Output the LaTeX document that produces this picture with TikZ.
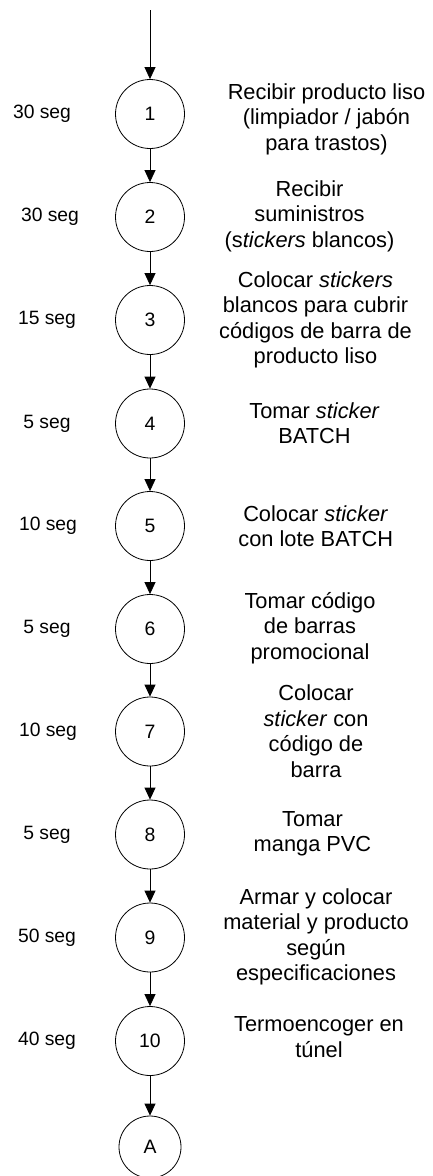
\documentclass[tikz,border=0pt]{standalone}
\usepackage{fontspec}
\setmainfont{Liberation Sans}
\usetikzlibrary{arrows.meta}
\begin{document}
\begin{tikzpicture}[x=1pt,y=-1pt,
  stepnode/.style={circle,draw,line width=0.8pt,minimum size=69pt,inner sep=0pt,
    font=\fontsize{19.4}{23}\selectfont},
  connnode/.style={circle,draw,line width=0.8pt,minimum size=62pt,inner sep=0pt,
    font=\fontsize{19.4}{23}\selectfont},
  timelabel/.style={inner sep=0pt,font=\fontsize{19.3}{23}\selectfont},
  desc/.style={align=center,inner sep=0pt,font=\fontsize{21.8}{25.5}\selectfont},
  flow/.style={line width=0.8pt,-{Triangle[length=12pt,width=11pt]}}
]
\useasboundingbox (0,0) rectangle (432,1176);

% operation circles
\node[stepnode] (s1)  at (150,114)  {1};
\node[stepnode] (s2)  at (150,217)  {2};
\node[stepnode] (s3)  at (150,320)  {3};
\node[stepnode] (s4)  at (150,423.5){4};
\node[stepnode] (s5)  at (150,526)  {5};
\node[stepnode] (s6)  at (150,629)  {6};
\node[stepnode] (s7)  at (150,731.5){7};
\node[stepnode] (s8)  at (150,834.5){8};
\node[stepnode] (s9)  at (150,937.5){9};
\node[stepnode] (s10) at (150,1041) {10};
\node[connnode] (a)   at (150,1147) {A};
\coordinate (start) at (150,10);

% flow arrows
\draw[flow] (start) -- (s1);
\draw[flow] (s1) -- (s2);
\draw[flow] (s2) -- (s3);
\draw[flow] (s3) -- (s4);
\draw[flow] (s4) -- (s5);
\draw[flow] (s5) -- (s6);
\draw[flow] (s6) -- (s7);
\draw[flow] (s7) -- (s8);
\draw[flow] (s8) -- (s9);
\draw[flow] (s9) -- (s10);
\draw[flow] (s10) -- (a);

% times
\node[timelabel] (t1)  at (42,114)   {30 seg};
\node[timelabel] (t2)  at (50,217)   {30 seg};
\node[timelabel] (t3)  at (47,320)   {15 seg};
\node[timelabel] (t4)  at (47,423.5) {5 seg};
\node[timelabel] (t5)  at (48,526)   {10 seg};
\node[timelabel] (t6)  at (47,629)   {5 seg};
\node[timelabel] (t7)  at (48,731.5) {10 seg};
\node[timelabel] (t8)  at (47,834.5) {5 seg};
\node[timelabel] (t9)  at (47,937.5) {50 seg};
\node[timelabel] (t10) at (47,1041)  {40 seg};

% descriptions
\node[desc] (d1)  at (326.5,119) {Recibir producto liso\\(limpiador / jabón\\para trastos)};
\node[desc] (d2)  at (309.5,216) {Recibir\\suministros\\(s\textit{tickers} blancos)};
\node[desc] (d3)  at (315.5,320) {Colocar \textit{stickers}\\blancos para cubrir\\códigos de barra de\\producto liso};
\node[desc] (d4)  at (314.5,423) {Tomar \textit{sticker}\\BATCH};
\node[desc] (d5)  at (315.7,526) {Colocar \textit{sticker}\\con lote BATCH};
\node[desc] (d6)  at (310,628)   {Tomar código\\de barras\\promocional};
\node[desc] (d7)  at (316,731)   {Colocar\\\textit{sticker} con\\código de\\barra};
\node[desc] (d8)  at (312.5,834) {Tomar\\manga PVC};
\node[desc] (d9)  at (316,937)   {Armar y colocar\\material y producto\\según\\especificaciones};
\node[desc] (d10) at (319,1037)  {Termoencoger en\\túnel};
\end{tikzpicture}
\end{document}
